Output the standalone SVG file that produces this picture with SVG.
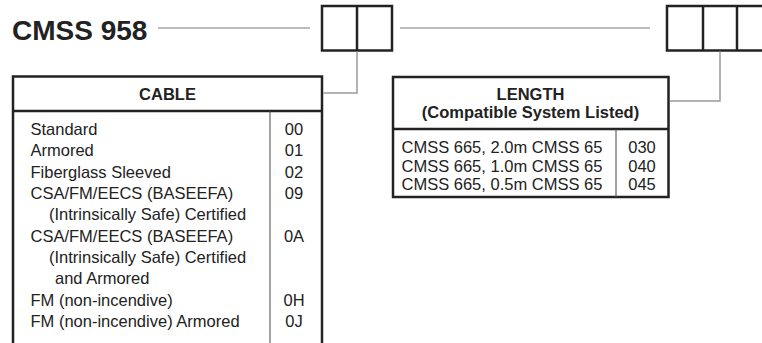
<svg xmlns="http://www.w3.org/2000/svg" width="762" height="343" viewBox="0 0 762 343">
<style>
text{font-family:"Liberation Sans",Arial,Helvetica,sans-serif;fill:#222}
.title{font-size:28px;font-weight:bold}
.hd{font-size:16.5px;font-weight:bold;text-anchor:middle}
.bd{font-size:16.5px}
.cd{font-size:16.5px;text-anchor:middle}
.box{fill:none;stroke:#222;stroke-width:2.5}
.thin{fill:none;stroke:#444;stroke-width:1}
.conn{fill:none;stroke:#999;stroke-width:1.5}
.rule{fill:none;stroke:#777;stroke-width:1}
</style>
<rect width="762" height="343" fill="#fff"/>
<g id="title">
<text class="title" x="12" y="40">CMSS 958</text>
</g>
<g id="code-boxes-1">
<rect class="box" x="322" y="6" width="70" height="44.5"/>
<line class="box" x1="357" y1="6" x2="357" y2="50.5"/>
</g>
<g id="code-boxes-2">
<rect class="box" x="667" y="6" width="105" height="44.5"/>
<line class="box" x1="703" y1="6" x2="703" y2="50.5"/>
<line class="box" x1="737" y1="6" x2="737" y2="50.5"/>
</g>
<g id="cable-table">
<rect class="box" x="13" y="76.5" width="309" height="300"/>
<line class="box" x1="13" y1="111" x2="322" y2="111"/>
<line class="thin" x1="270" y1="111" x2="270" y2="345"/>
<text class="hd" x="167.5" y="100">CABLE</text>
<text class="bd" x="30.5" y="135">Standard</text>
<text class="bd" x="30.5" y="156.3">Armored</text>
<text class="bd" x="30.5" y="177.7">Fiberglass Sleeved</text>
<text class="bd" x="30.5" y="199">CSA/FM/EECS (BASEEFA)</text>
<text class="bd" x="49" y="220.3">(Intrinsically Safe) Certified</text>
<text class="bd" x="30.5" y="241.7">CSA/FM/EECS (BASEEFA)</text>
<text class="bd" x="49" y="263">(Intrinsically Safe) Certified</text>
<text class="bd" x="55" y="284.3">and Armored</text>
<text class="bd" x="30.5" y="305.7">FM (non-incendive)</text>
<text class="bd" x="30.5" y="327">FM (non-incendive) Armored</text>
<text class="cd" x="294" y="135">00</text>
<text class="cd" x="294" y="156.3">01</text>
<text class="cd" x="294" y="177.7">02</text>
<text class="cd" x="294" y="199">09</text>
<text class="cd" x="294" y="241.7">0A</text>
<text class="cd" x="294" y="305.7">0H</text>
<text class="cd" x="294" y="327">0J</text>
</g>
<g id="length-table">
<rect class="box" x="393" y="77" width="275.5" height="120"/>
<line class="box" x1="393" y1="129" x2="668.5" y2="129"/>
<line class="thin" x1="616" y1="129" x2="616" y2="197"/>
<text class="hd" x="530.5" y="100">LENGTH</text>
<text class="hd" x="530.5" y="118">(Compatible System Listed)</text>
<text class="bd" x="401.5" y="153">CMSS 665, 2.0m CMSS 65</text>
<text class="bd" x="401.5" y="171.5">CMSS 665, 1.0m CMSS 65</text>
<text class="bd" x="401.5" y="190">CMSS 665, 0.5m CMSS 65</text>
<text class="cd" x="642" y="153">030</text>
<text class="cd" x="642" y="171.5">040</text>
<text class="cd" x="642" y="190">045</text>
</g>
<g id="connectors">
<line class="rule" x1="158" y1="28" x2="310" y2="28"/>
<line class="rule" x1="400" y1="28" x2="650" y2="28"/>
<polyline class="conn" points="357,51.5 357,93 323.5,93"/>
<polyline class="conn" points="720,51.5 720,101 670,101"/>
</g>
</svg>
